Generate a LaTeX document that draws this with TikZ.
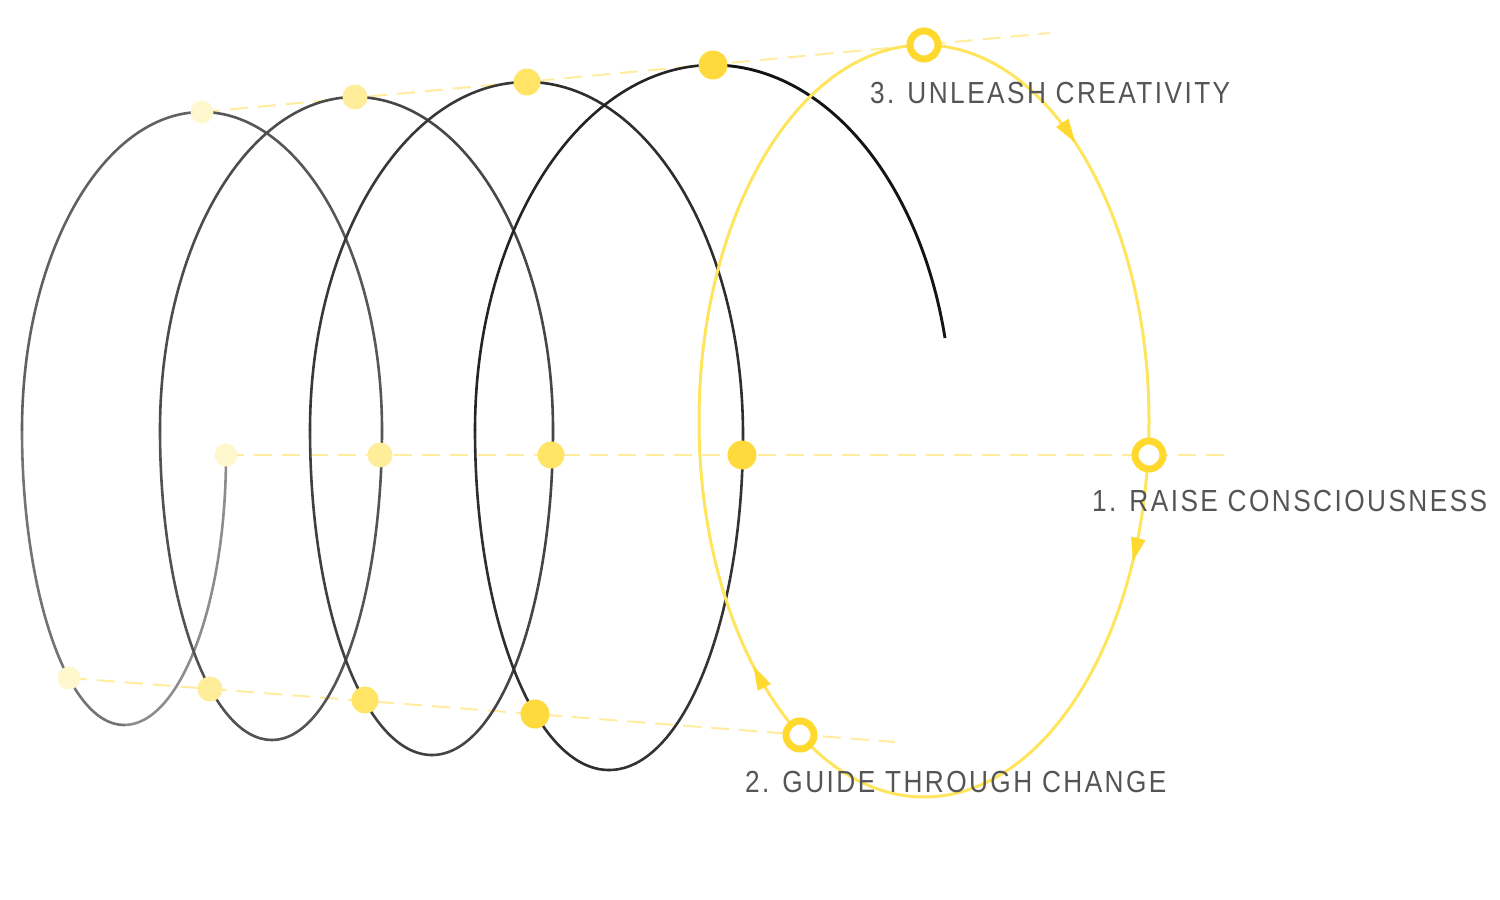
\documentclass[tikz,border=0pt]{standalone}
\usepackage{fontspec}
\setmainfont{Liberation Sans}[FakeStretch=0.86,LetterSpace=8]
\usetikzlibrary{arrows.meta,decorations.markings,backgrounds}
\definecolor{ylw}{HTML}{FFD92E}
\definecolor{ylwline}{HTML}{FFE45E}
\definecolor{dashy}{HTML}{FFEC9E}
\definecolor{dA}{HTML}{FFF7CE}
\definecolor{dB}{HTML}{FFED9A}
\definecolor{dC}{HTML}{FFE466}
\definecolor{dD}{HTML}{FFDA3C}
\definecolor{txt}{HTML}{555555}
\begin{document}
\begin{tikzpicture}[x=1pt,y=-1pt,
  dotA/.style={circle,inner sep=0pt,minimum size=23pt,fill=dA},
  dotB/.style={circle,inner sep=0pt,minimum size=25pt,fill=dB},
  dotC/.style={circle,inner sep=0pt,minimum size=27pt,fill=dC},
  dotD/.style={circle,inner sep=0pt,minimum size=29pt,fill=dD},
  ring/.style={circle,inner sep=0pt,minimum size=28pt,draw=ylw,line width=7pt,fill=white},
  dashline/.style={draw=dashy,line width=2pt,dash pattern=on 18pt off 10pt},
  spir/.style={line width=2.6pt,line cap=round},
  cyc/.style={draw=ylwline,line width=3pt},
  lbl/.style={anchor=base west,inner sep=0pt,text=txt,font=\fontsize{30.5}{36}\selectfont}]
\useasboundingbox (0,0) rectangle (1500,900);

% dots
\node[dotA] (a1) at (202,112) {};
\node[dotB] (a2) at (355,97) {};
\node[dotC] (a3) at (527,82) {};
\node[dotD] (a4) at (713,65) {};
\node[ring] (r3) at (924,45) {};
\coordinate (topend) at (1050,33);

\node[dotA] (m1) at (226,455) {};
\node[dotB] (m2) at (380,455) {};
\node[dotC] (m3) at (551,455) {};
\node[dotD] (m4) at (742,455) {};
\node[ring] (r1) at (1149,455) {};
\coordinate (midend) at (1230,455);

\node[dotA] (b1) at (69,678) {};
\node[dotB] (b2) at (210,689) {};
\node[dotC] (b3) at (365,700) {};
\node[dotD] (b4) at (535,714) {};
\node[ring] (r2) at (800,735) {};
\coordinate (botend) at (895,742);

% spiral key points
\coordinate (S0) at (226,455);
\coordinate (B1) at (124,725);
\coordinate (L1) at (22,430);
\coordinate (T1) at (202,112);
\coordinate (R1) at (382,430);
\coordinate (B2) at (272,740);
\coordinate (L2) at (160,430);
\coordinate (T2) at (355,97);
\coordinate (R2) at (553,430);
\coordinate (B3) at (432,755);
\coordinate (L3) at (310,430);
\coordinate (T3) at (527,82);
\coordinate (R3) at (743,435);
\coordinate (B4) at (609,770);
\coordinate (L4) at (475,430);
\coordinate (T4) at (713,65);
\coordinate (E) at (945,338);

% cycle ellipse points
\coordinate (eT) at (924,45);
\coordinate (eR) at (1149,421);
\coordinate (eB) at (924,797);
\coordinate (eL) at (699,421);

\begin{pgfonlayer}{background}
  \draw[dashline] (a1.center) -- (topend);
  \draw[dashline] (m1.center) -- (midend);
  \draw[dashline] (b1.center) -- (botend);

  \draw[spir,draw=black!45] (S0) .. controls (226,604) and (180,725) .. (B1);
  \draw[spir,draw=black!55] (B1) .. controls (67.7,725) and (22,593) .. (L1);
  \draw[spir,draw=black!62] (L1) .. controls (22,254.4) and (102.6,112) .. (T1);
  \draw[spir,draw=black!66] (T1) .. controls (301.4,112) and (382,254.4) .. (R1);
  \draw[spir,draw=black!67] (R1) .. controls (382,601.2) and (332.8,740) .. (B2);
  \draw[spir,draw=black!68] (B2) .. controls (210.1,740) and (160,601.2) .. (L2);
  \draw[spir,draw=black!70] (L2) .. controls (160,246.1) and (247.3,97) .. (T2);
  \draw[spir,draw=black!72] (T2) .. controls (464.4,97) and (553,246.1) .. (R2);
  \draw[spir,draw=black!73] (R2) .. controls (553,609.5) and (498.8,755) .. (B3);
  \draw[spir,draw=black!75] (B3) .. controls (364.6,755) and (310,609.5) .. (L3);
  \draw[spir,draw=black!78] (L3) .. controls (310,237.8) and (407.1,82) .. (T3);
  \draw[spir,draw=black!82] (T3) .. controls (646.3,82) and (743,240) .. (R3);
  \draw[spir,draw=black!80] (R3) .. controls (743,620) and (683,770) .. (B4);
  \draw[spir,draw=black!82] (B4) .. controls (535,770) and (475,617.8) .. (L4);
  \draw[spir,draw=black!86] (L4) .. controls (475,228.4) and (581.6,65) .. (T4);
  \draw[line width=2.9pt,draw=black!92] (T4) .. controls (822.6,65) and (919,176.6) .. (E);

  \draw[cyc,postaction={decorate},decoration={markings,
      mark=at position 0.098 with {\arrow{Triangle[length=24pt,width=14pt,color=ylw]}},
      mark=at position 0.324 with {\arrow{Triangle[length=24pt,width=14pt,color=ylw]}},
      mark=at position 0.618 with {\arrow{Triangle[length=24pt,width=14pt,color=ylw]}}}]
    (eT) .. controls (1048.3,45) and (1149,213.3) .. (eR)
         .. controls (1149,628.7) and (1048.3,797) .. (eB)
         .. controls (799.7,797) and (699,628.7) .. (eL)
         .. controls (699,213.3) and (799.7,45) .. (eT);
\end{pgfonlayer}

\node[lbl] (l3) at (870,103) {3. UNLEASH CREATIVITY};
\node[lbl] (l1) at (1092,511) {1. RAISE CONSCIOUSNESS};
\node[lbl] (l2) at (745,792) {2. GUIDE THROUGH CHANGE};
\end{tikzpicture}
\end{document}
